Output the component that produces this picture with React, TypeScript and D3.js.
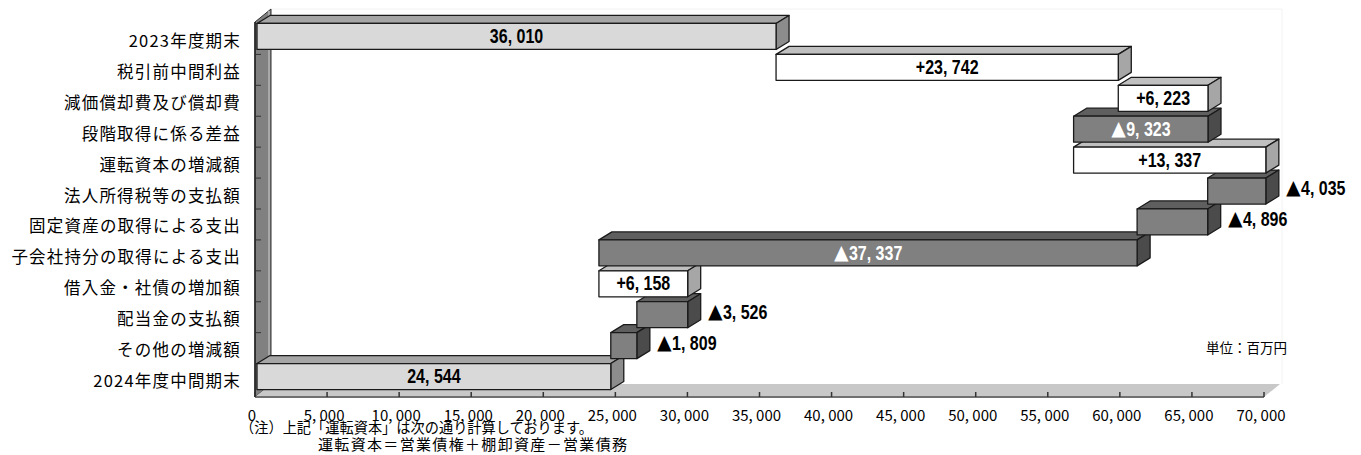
import * as d3 from 'd3';

const CATEGORIES = [
  '2023年度期末',
  '税引前中間利益',
  '減価償却費及び償却費',
  '段階取得に係る差益',
  '運転資本の増減額',
  '法人所得税等の支払額',
  '固定資産の取得による支出',
  '子会社持分の取得による支出',
  '借入金・社債の増加額',
  '配当金の支払額',
  'その他の増減額',
  '2024年度中間期末',
];
const DELTAS = [36010, 23742, 6223, -9323, 13337, -4035, -4896, -37337, 6158, -3526, -1809, 24544];
const KINDS = ['total', 'up', 'up', 'down', 'up', 'down', 'down', 'down', 'up', 'down', 'down', 'total'];
const VALUE_LABELS = [
  '36, 010', '+23, 742', '+6, 223', '▲9, 323', '+13, 337', '▲4, 035',
  '▲4, 896', '▲37, 337', '+6, 158', '▲3, 526', '▲1, 809', '24, 544',
];
const X_TICKS = [0, 5000, 10000, 15000, 20000, 25000, 30000, 35000, 40000, 45000, 50000, 55000, 60000, 65000, 70000];
const NOTE_LINES = ['（注）上記「運転資本」は次の通り計算しております。', '運転資本＝営業債権＋棚卸資産－営業債務'];
const UNIT = '単位：百万円';

const FACE: Record<string, { front: string; top: string; side: string; text: string }> = {
  total: { front: '#d9d9d9', top: '#a6a6a6', side: '#8c8c8c', text: '#000' },
  up: { front: '#ffffff', top: '#c0c0c0', side: '#a6a6a6', text: '#000' },
  down: { front: '#808080', top: '#5f5f5f', side: '#4b4b4b', text: '#fff' },
};

const W = 1361;
const H = 455;
const JP = "'Noto Sans CJK JP', 'Noto Sans', sans-serif";
const NUM = "'Liberation Sans', Arial, sans-serif";

export default function App() {
  const x = d3.scaleLinear().domain([0, 70000]).range([255, 1264]);
  const y = d3.scaleBand().domain(CATEGORIES).range([24.5, 395.5]);
  const bw = y.bandwidth();
  const barH = bw * 0.84;
  const DX = 13, DY = -8; // bar depth
  const WX = 16, WY = -13; // wall / floor depth
  const x0 = x(0), x1 = x(70000);
  const yTop = 22, yBot = 397;

  // running totals for the waterfall
  let run = 0;
  const bars = CATEGORIES.map((c, i) => {
    const d = DELTAS[i];
    let a: number, b: number;
    if (KINDS[i] === 'total') { a = 0; b = d; run = d; }
    else { a = run; b = run + d; run = b; }
    const lo = Math.min(a, b), hi = Math.max(a, b);
    const cy = (y(c) as number) + bw / 2;
    const fx0 = x(lo) + 2, fx1 = x(hi) + 2;
    const fy0 = cy - 3.5 - barH / 2, fy1 = cy - 3.5 + barH / 2;
    return { c, i, kind: KINDS[i], label: VALUE_LABELS[i], cy, fx0, fx1, fy0, fy1, inside: fx1 - fx0 > 80 };
  });

  const pts = (p: number[][]) => p.map(q => q.join(',')).join(' ');

  return (
    <svg width={W} height={H} style={{ position: 'absolute', left: 0, top: 0, display: 'block', background: '#fff' }}>
      {/* faint back box */}
      <line x1={x0 + WX} x2={x1 + 18} y1={9} y2={9} stroke="#f2f2f2" />
      <line x1={x1 + 18} x2={x1 + 18} y1={9} y2={yBot + WY} stroke="#f2f2f2" />

      {/* left wall */}
      <polygon points={pts([[x0, yTop], [x0 + WX, yTop + WY], [x0 + WX, yBot + WY], [x0, yBot]])}
        fill="#808080" stroke="#333" strokeWidth={1} />
      <line x1={x0 + WX - 2} x2={x0 + WX - 2} y1={yTop + WY + 2} y2={yBot + WY} stroke="#a8a8a8" strokeWidth={2} />
      {/* floor */}
      <polygon points={pts([[x0, yBot], [x1, yBot], [x1 + WX, yBot + WY], [x0 + WX, yBot + WY]])} fill="#c8c8c8" />
      <line x1={x0} x2={x1} y1={yBot} y2={yBot} stroke="#707070" strokeWidth={2} />
      <line x1={x0} x2={x0} y1={yTop} y2={yBot} stroke="#222" strokeWidth={1.5} />
      {X_TICKS.map(t => (
        <line key={t} x1={x(t)} x2={x(t)} y1={yBot - 5} y2={yBot} stroke="#333" strokeWidth={1.5} />
      ))}
      {CATEGORIES.slice(1).map(c => (
        <line key={c} x1={x0} x2={x0 + 6} y1={(y(c) as number) - 1} y2={(y(c) as number) - 1} stroke="#333" strokeWidth={1} />
      ))}

      {/* bars, lower rows first so upper rows overlap their top faces */}
      {bars.slice().reverse().map(b => {
        const f = FACE[b.kind];
        return (
          <g key={b.c} stroke="#1a1a1a" strokeWidth={1.3} strokeLinejoin="round">
            <polygon points={pts([[b.fx0, b.fy0], [b.fx0 + DX, b.fy0 + DY], [b.fx1 + DX, b.fy0 + DY], [b.fx1, b.fy0]])} fill={f.top} />
            <polygon points={pts([[b.fx1, b.fy0], [b.fx1 + DX, b.fy0 + DY], [b.fx1 + DX, b.fy1 + DY], [b.fx1, b.fy1]])} fill={f.side} />
            <rect x={b.fx0} y={b.fy0} width={b.fx1 - b.fx0} height={b.fy1 - b.fy0} fill={f.front} />
          </g>
        );
      })}

      {/* value labels (condensed bold) */}
      {bars.map(b => {
        const tx = b.inside ? (b.fx0 + b.fx1) / 2 : b.fx1 + 20;
        const ty = b.inside ? (b.fy0 + b.fy1) / 2 : b.cy - 6;
        const neg = b.label.startsWith('▲');
        return (
          <text key={b.c} transform={`translate(${tx},${ty}) scale(0.8,1)`} textAnchor={b.inside ? 'middle' : 'start'}
            dominantBaseline="central" fontFamily={NUM} fontWeight="bold" fontSize={20}
            fill={b.inside ? FACE[b.kind].text : '#000'}>
            {neg && <tspan fontFamily={JP} fontSize={19}>▲</tspan>}
            {neg ? b.label.slice(1) : b.label}
          </text>
        );
      })}

      {/* category labels */}
      {CATEGORIES.map(c => (
        <text key={c} x={241} y={(y(c) as number) + bw / 2} textAnchor="end" dominantBaseline="central"
          fontFamily={JP} fontSize={16.5} letterSpacing={1.2} fill="#000">{c}</text>
      ))}

      {/* x tick labels */}
      {X_TICKS.map(t => (
        <text key={t} x={x(t) - 3} y={421} textAnchor="middle" fontFamily={JP} fontSize={15} fill="#000">
          {d3.format(',')(t).replace(',', ', ')}
        </text>
      ))}

      <text x={1287} y={347} textAnchor="end" dominantBaseline="central" fontFamily={JP} fontSize={13.5} fill="#000">{UNIT}</text>

      <text x={240} y={433} fontFamily={JP} fontSize={15} textLength={353} lengthAdjust="spacingAndGlyphs" fill="#000">{NOTE_LINES[0]}</text>
      <text x={318} y={450} fontFamily={JP} fontSize={15} textLength={309} lengthAdjust="spacing" fill="#000">{NOTE_LINES[1]}</text>
    </svg>
  );
}
